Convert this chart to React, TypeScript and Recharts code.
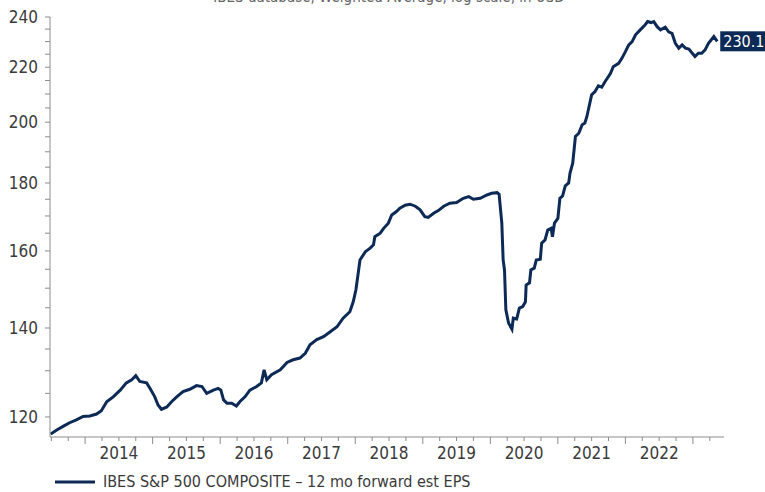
import React from 'react';
import { LineChart, Line, XAxis, YAxis, ReferenceDot, Legend } from 'recharts';

// Decimal-year dates of the samples
const dates: number[] = [
  2013.49, 2013.58, 2013.68, 2013.77, 2013.87, 2013.97, 2014.07, 2014.17, 2014.24, 2014.32,
  2014.42, 2014.52, 2014.61, 2014.69, 2014.75, 2014.81, 2014.91, 2014.96, 2015.03, 2015.08,
  2015.13, 2015.21, 2015.28, 2015.36, 2015.45, 2015.55, 2015.65, 2015.73, 2015.80, 2015.90,
  2015.97, 2016.01, 2016.05, 2016.10, 2016.17, 2016.24, 2016.29, 2016.37, 2016.44, 2016.54,
  2016.61, 2016.65, 2016.69, 2016.76, 2016.89, 2016.99, 2017.08, 2017.18, 2017.26, 2017.33,
  2017.43, 2017.53, 2017.63, 2017.73, 2017.82, 2017.92, 2017.97, 2018.01, 2018.07, 2018.15,
  2018.22, 2018.27, 2018.29, 2018.37, 2018.42, 2018.49, 2018.54, 2018.61, 2018.66, 2018.74,
  2018.81, 2018.89, 2018.96, 2019.03, 2019.08, 2019.16, 2019.23, 2019.31, 2019.40, 2019.50,
  2019.60, 2019.68, 2019.75, 2019.85, 2019.95, 2020.02, 2020.10, 2020.13, 2020.17, 2020.19,
  2020.21, 2020.23, 2020.27, 2020.32, 2020.34, 2020.39, 2020.43, 2020.48, 2020.52, 2020.53,
  2020.58, 2020.60, 2020.65, 2020.68, 2020.74, 2020.76, 2020.81, 2020.85, 2020.90, 2020.92,
  2020.95, 2021.00, 2021.03, 2021.07, 2021.11, 2021.16, 2021.18, 2021.22, 2021.26, 2021.31,
  2021.36, 2021.40, 2021.43, 2021.50, 2021.55, 2021.60, 2021.65, 2021.70, 2021.78, 2021.82,
  2021.90, 2021.95, 2022.00, 2022.05, 2022.10, 2022.15, 2022.22, 2022.29, 2022.33, 2022.38,
  2022.42, 2022.47, 2022.52, 2022.59, 2022.64, 2022.69, 2022.74, 2022.79, 2022.84, 2022.89,
  2022.94, 2022.99, 2023.03, 2023.08, 2023.13, 2023.18, 2023.23, 2023.31, 2023.36,
];

// IBES S&P 500 COMPOSITE - 12 mo forward est EPS (USD)
const eps: number[] = [
  116.5, 117.3, 118.1, 118.8, 119.4, 120.1, 120.2, 120.6, 121.3, 123.2,
  124.3, 125.7, 127.3, 128.0, 128.9, 127.6, 127.3, 126.1, 124.3, 122.5,
  121.6, 122.1, 123.2, 124.3, 125.4, 125.9, 126.7, 126.5, 125.0, 125.7,
  126.1, 125.7, 123.6, 122.9, 122.9, 122.3, 123.2, 124.3, 125.7, 126.5,
  127.3, 130.2, 128.0, 129.1, 130.2, 131.9, 132.5, 132.9, 134.0, 136.0,
  137.2, 137.9, 139.1, 140.3, 142.4, 144.0, 146.5, 149.6, 157.5, 159.8,
  160.8, 161.7, 164.0, 165.0, 166.4, 167.9, 170.3, 171.3, 172.3, 173.2,
  173.5, 172.9, 171.8, 169.8, 169.6, 170.8, 171.6, 172.9, 173.8, 174.0,
  175.3, 175.8, 175.0, 175.3, 176.3, 176.8, 177.0, 176.5, 167.9, 157.5,
  154.8, 144.5, 141.2, 139.7, 142.4, 142.2, 144.9, 145.3, 146.5, 150.8,
  151.4, 154.8, 155.3, 157.5, 157.7, 162.2, 163.1, 165.9, 166.4, 164.0,
  167.9, 169.3, 175.3, 176.0, 179.1, 180.0, 183.1, 186.3, 195.1, 196.2,
  199.1, 199.7, 202.0, 209.7, 210.9, 213.0, 212.5, 214.6, 217.7, 220.2,
  221.5, 223.5, 226.0, 228.7, 230.0, 232.7, 234.7, 236.7, 238.1, 237.7,
  238.1, 236.0, 234.7, 235.8, 233.9, 233.3, 229.3, 227.4, 228.7, 227.4,
  227.0, 225.4, 224.1, 225.4, 225.4, 226.7, 229.3, 232.0, 230.1,
];

const yTicks: number[] = [
  120, 125, 130, 135, 140, 145, 150, 155, 160, 165, 170, 175, 180,
  185, 190, 195, 200, 205, 210, 215, 220, 225, 230, 235, 240,
];
const yLabelTicks: number[] = [120, 140, 160, 180, 200, 220, 240];

const xTicks: number[] = [
  2013.5, 2013.75, 2014, 2014.25, 2014.5, 2014.75, 2015, 2015.25, 2015.5, 2015.75,
  2016, 2016.25, 2016.5, 2016.75, 2017, 2017.25, 2017.5, 2017.75, 2018, 2018.25,
  2018.5, 2018.75, 2019, 2019.25, 2019.5, 2019.75, 2020, 2020.25, 2020.5, 2020.75,
  2021, 2021.25, 2021.5, 2021.75, 2022, 2022.25, 2022.5, 2022.75, 2023, 2023.25,
];
const yearLabels: number[] = [2014, 2015, 2016, 2017, 2018, 2019, 2020, 2021, 2022];

const seriesName = 'IBES S&P 500 COMPOSITE \u2013 12 mo forward est EPS';
const subtitle = 'IBES database, Weighted Average, log scale, in USD';

const data = dates.map((t, i) => ({ t, v: eps[i] }));
const last = data[data.length - 1];

const NAVY = '#0c2a55';
const AXIS = '#8c8c8c';
const TEXT = '#3a3a3a';
const FONT = "'Liberation Sans Narrow', 'DejaVu Sans Condensed', 'Arial Narrow', sans-serif";

const YTick = (props: any) => {
  const { x, y, payload } = props;
  const v = payload.value;
  const major = yLabelTicks.includes(v);
  return (
    <g>
      <line x1={x} x2={x - 5} y1={y} y2={y} stroke={AXIS} strokeWidth={1} />
      {major && (
        <text x={x - 12} y={y} dy="0.36em" textAnchor="end" fontSize={17} fill={TEXT} fontFamily={FONT}>
          {v}
        </text>
      )}
    </g>
  );
};

const XTick = (props: any) => {
  const { x, y, payload } = props;
  const v = payload.value;
  const isYear = Math.abs(v - Math.round(v)) < 1e-6;
  const yr = Math.floor(v);
  const isMid = Math.abs(v - yr - 0.5) < 1e-6;
  return (
    <g>
      <line x1={x} x2={x} y1={y} y2={y + (isYear ? 7 : 4)} stroke={AXIS} strokeWidth={1} />
      {isMid && yearLabels.includes(yr) && (
        <text x={x} y={y + 22} textAnchor="middle" fontSize={17} fill={TEXT} fontFamily={FONT}>
          {yr}
        </text>
      )}
    </g>
  );
};

const LastLabel = (props: any) => {
  const { cx, cy } = props;
  return (
    <g>
      <rect x={cx + 3} y={cy - 10} width={50} height={20} fill={NAVY} />
      <text x={cx + 6} y={cy + 6} fontSize={16} fill="#ffffff" fontFamily={FONT}>
        {last.v.toFixed(1)}
      </text>
    </g>
  );
};

const renderLegend = () => (
  <svg width={765} height={27} style={{ display: 'block' }}>
    <line x1={55} x2={95} y1={17} y2={17} stroke={NAVY} strokeWidth={3} />
    <text x={103} y={22} fontSize={16} fill={TEXT} fontFamily={FONT}>
      {seriesName}
    </text>
  </svg>
);

export default function App() {
  return (
    <div style={{ position: 'absolute', left: 0, top: 0, width: 765, height: 492, background: '#fff', overflow: 'hidden' }}>
      <svg width={765} height={12} style={{ position: 'absolute', left: 0, top: 0 }}>
        <text x={389} y={2} textAnchor="middle" fontSize={15} fill="#666" fontFamily={FONT}>
          {subtitle}
        </text>
      </svg>
      <LineChart width={765} height={492} data={data} margin={{ top: 17, right: 41, left: 0, bottom: 0 }}>
        <XAxis
          dataKey="t"
          type="number"
          domain={[2013.48, 2023.46]}
          ticks={xTicks}
          interval={0}
          allowDataOverflow
          tickLine={false}
          tickSize={0}
          tickMargin={0}
          height={28}
          axisLine={{ stroke: AXIS }}
          tick={<XTick />}
        />
        <YAxis
          dataKey="v"
          scale="log"
          type="number"
          domain={[115.9, 240]}
          ticks={yTicks}
          interval={0}
          allowDataOverflow
          tickLine={false}
          tickSize={0}
          tickMargin={0}
          width={50}
          axisLine={{ stroke: AXIS }}
          tick={<YTick />}
        />
        <Line
          type="linear"
          dataKey="v"
          stroke={NAVY}
          strokeWidth={3}
          dot={false}
          isAnimationActive={false}
          name={seriesName}
        />
        <ReferenceDot x={last.t} y={last.v} r={0} shape={<LastLabel />} />
        <Legend verticalAlign="bottom" align="left" height={27} content={renderLegend} wrapperStyle={{ left: 0, bottom: 0, width: 765 }} />
      </LineChart>
    </div>
  );
}
